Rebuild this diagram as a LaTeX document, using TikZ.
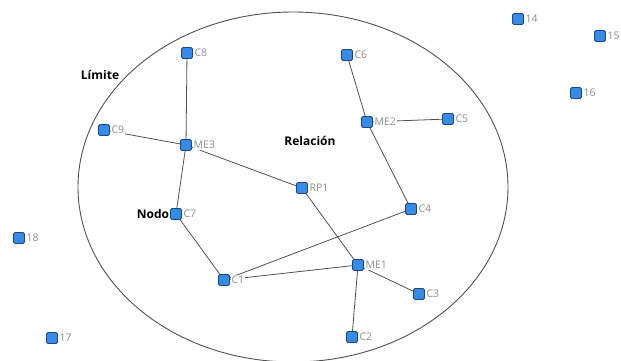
\documentclass[tikz,border=0pt]{standalone}
\usepackage{fontspec}
\setmainfont{Open Sans}
\usetikzlibrary{backgrounds}
\definecolor{nodefill}{RGB}{52,140,232}
\definecolor{nodeborder}{RGB}{30,70,130}
\definecolor{labgray}{RGB}{140,140,140}
\definecolor{edgegray}{RGB}{80,80,80}
\tikzset{
  vtx/.style={draw=nodeborder, fill=nodefill, line width=0.8pt, minimum size=11pt, inner sep=0pt, rounded corners=1.5pt,
    label={[text=labgray, fill=white, font=\fontsize{10.5}{11}\selectfont, inner sep=1pt, xshift=0.5pt]right:#1}},
  link/.style={draw=edgegray, line width=0.8pt},
  note/.style={font=\fontsize{12}{13}\selectfont\bfseries, text=black},
  bound/.style={draw=edgegray, line width=0.9pt}
}
\begin{document}
\begin{tikzpicture}[x=1pt,y=-1pt]
\useasboundingbox (0,0) rectangle (621,360);
\begin{scope}
\clip (0,0) rectangle (621,360);
\draw[bound] (293,187) ellipse [x radius=215, y radius=175];
\end{scope}
\node[vtx=C8] (C8) at (187,53) {};
\node[vtx=ME3] (ME3) at (186,145) {};
\node[vtx=C9] (C9) at (104,130) {};
\node[vtx=RP1] (RP1) at (302,188) {};
\node[vtx=C7] (C7) at (176,214) {};
\node[vtx=C1] (C1) at (224,280) {};
\node[vtx=ME1] (ME1) at (358,265) {};
\node[vtx=C3] (C3) at (419,294) {};
\node[vtx=C2] (C2) at (352,337) {};
\node[vtx=C4] (C4) at (411,209) {};
\node[vtx=ME2] (ME2) at (367,122) {};
\node[vtx=C6] (C6) at (347,55) {};
\node[vtx=C5] (C5) at (448,119) {};
\node[vtx=14] (n14) at (518,19) {};
\node[vtx=15] (n15) at (600,36) {};
\node[vtx=16] (n16) at (576,93) {};
\node[vtx=18] (n18) at (19,238) {};
\node[vtx=17] (n17) at (52,338) {};
\node[note] (limite) at (100,75) {Límite};
\node[note] (relacion) at (310,141) {Relación};
\node[note] (nodo) at (153,214) {Nodo};
\begin{scope}[on background layer]
\draw[link] (C8) -- (ME3);
\draw[link] (C9) -- (ME3);
\draw[link] (ME3) -- (C7);
\draw[link] (ME3) -- (RP1);
\draw[link] (C7) -- (C1);
\draw[link] (C1) -- (C4);
\draw[link] (C1) -- (ME1);
\draw[link] (RP1) -- (ME1);
\draw[link] (ME1) -- (C3);
\draw[link] (ME1) -- (C2);
\draw[link] (C6) -- (ME2);
\draw[link] (ME2) -- (C5);
\draw[link] (ME2) -- (C4);
\end{scope}
\end{tikzpicture}
\end{document}
